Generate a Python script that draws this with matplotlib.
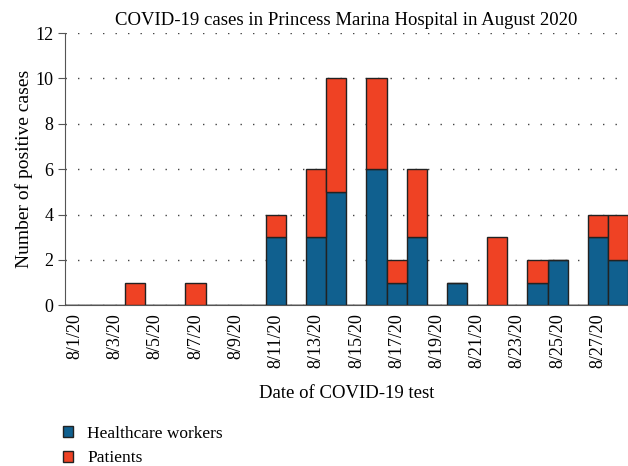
import matplotlib.pyplot as plt
from matplotlib.patches import Patch

plt.rcParams['font.family'] = ['Liberation Serif', 'DejaVu Serif']

# one entry per day, 8/1/20 .. 8/28/20
dates = ["8/%d/20" % d for d in range(1, 29)]
workers = [0, 0, 0, 0, 0, 0, 0, 0, 0, 0, 3, 0, 3, 5, 0, 6, 1, 3, 0, 1, 0, 0, 0, 1, 2, 0, 3, 2]
patients = [0, 0, 0, 1, 0, 0, 1, 0, 0, 0, 1, 0, 3, 5, 0, 4, 1, 3, 0, 0, 0, 3, 0, 1, 0, 0, 1, 2]

blue = "#10608f"
red = "#ef4224"

fig = plt.figure(figsize=(6.28, 4.66), dpi=100)
ax = fig.add_axes([0.103, 0.345, 0.897, 0.584])

x = list(range(len(dates)))
ax.bar(x, workers, width=1.0, color=blue, edgecolor="#222222", linewidth=1.0, zorder=3)
ax.bar(x, patients, width=1.0, bottom=workers, color=red, edgecolor="#222222", linewidth=1.0, zorder=3)

ax.set_xlim(-0.5, 27.5)
ax.set_ylim(0, 12)
ax.set_yticks(range(0, 13, 2))
ax.set_xticks(x[::2])
ax.set_xticklabels(dates[::2], rotation=90, fontsize=13)
ax.tick_params(axis="x", length=0, pad=6)
ax.tick_params(axis="y", labelsize=13, length=5, color="#555555", pad=3)

ax.yaxis.grid(True, linestyle=(0, (1, 8)), color="#444444", linewidth=1.0, zorder=0)
for s in ["top", "right"]:
    ax.spines[s].set_visible(False)
for s in ["left", "bottom"]:
    ax.spines[s].set_color("#555555")

ax.set_title("COVID-19 cases in Princess Marina Hospital in August 2020", fontsize=13.5, pad=6)
ax.set_ylabel("Number of positive cases", fontsize=14, labelpad=2)
ax.set_xlabel("Date of COVID-19 test", fontsize=13.5, labelpad=12)

handles = [Patch(facecolor=blue, edgecolor="#222222", label="Healthcare workers"),
           Patch(facecolor=red, edgecolor="#222222", label="Patients")]
fig.legend(handles=handles, loc="upper left", bbox_to_anchor=(0.075, 0.12), frameon=False,
           fontsize=12.5, handlelength=0.6, handleheight=0.6, handletextpad=0.8, labelspacing=0.5)

fig.savefig("out.png", dpi=100)
